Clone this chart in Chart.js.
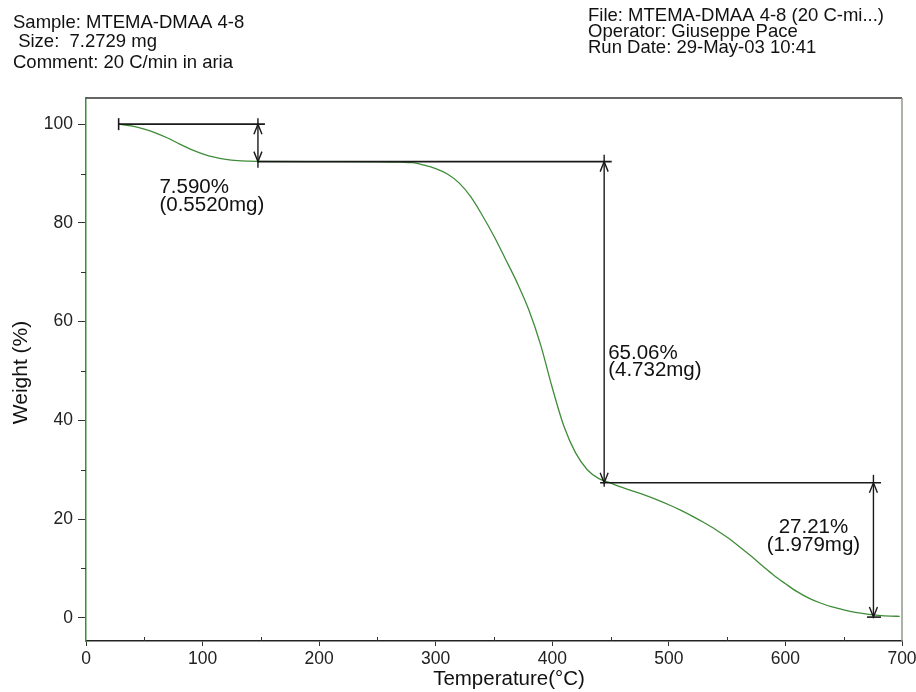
<!DOCTYPE html>
<html><head><meta charset="utf-8">
<script src="https://cdn.jsdelivr.net/npm/chart.js@4"></script>
<style>html,body{margin:0;padding:0;background:#fff}</style>
</head><body>
<canvas id="c" width="916" height="692"></canvas>
<script>
// ---- data ----
const temperature = [28, 40, 50, 60, 70, 80, 90, 100, 110, 120, 130, 140, 150, 200, 250, 270, 280, 290, 300, 310, 320, 330, 340, 350, 360, 370, 380, 390, 400, 410, 420, 430, 440, 450, 460, 470, 480, 490, 500, 510, 520, 530, 540, 550, 560, 570, 580, 590, 600, 610, 620, 630, 640, 650, 660, 670, 680, 690, 698];
const weight      = [100, 99.6, 99.0, 98.2, 97.2, 96.0, 94.9, 94.0, 93.3, 92.85, 92.6, 92.5, 92.45, 92.42, 92.38, 92.3, 92.2, 91.7, 91.0, 89.9, 88.1, 85.3, 81.5, 77.3, 72.6, 67.8, 62.3, 55.3, 46.6, 38.8, 33.4, 30.0, 28.2, 27.3, 26.4, 25.6, 24.8, 23.9, 22.9, 21.8, 20.6, 19.3, 17.9, 16.3, 14.5, 12.6, 10.6, 8.6, 6.9, 5.3, 4.0, 3.0, 2.2, 1.6, 1.1, 0.75, 0.5, 0.35, 0.3];
const xTicks = [0, 100, 200, 300, 400, 500, 600, 700];
const xMinorTicks = [50, 150, 250, 350, 450, 550, 650];
const yTicks = [0, 20, 40, 60, 80, 100];
const yMinorTicks = [10, 30, 50, 70, 90];
const headerLeft = ["Sample: MTEMA-DMAA 4-8", " Size:  7.2729 mg", "Comment: 20 C/min in aria"];
const headerRight = ["File: MTEMA-DMAA 4-8 (20 C-mi...)", "Operator: Giuseppe Pace", "Run Date: 29-May-03 10:41"];
// step analysis: weight levels and arrow temperatures
const stepLevels = [100, 92.41, 27.35, 0.14];
const stepArrowT = [147.5, 444.5, 675.5];
const stepPercent = ["7.590%", "65.06%", "27.21%"];
const stepMass = ["(0.5520mg)", "(4.732mg)", "(1.979mg)"];
// horizontal reference lines: [level, fromT, toT]
const levelLines = [[100, 28, 153.5], [92.41, 147.5, 451], [27.35, 441, 682], [0.14, 670, 682]];

const FONT = "'Liberation Sans', Arial, Helvetica, sans-serif";
const GREEN = '#3f8c38';

const annot = {
  id: 'annot',
  afterDraw(chart) {
    const ctx = chart.ctx, xs = chart.scales.x, ys = chart.scales.y, a = chart.chartArea;
    const X = v => xs.getPixelForValue(v), Y = v => ys.getPixelForValue(v);
    ctx.save();
    // frame: top and right
    ctx.lineWidth = 1.5;
    ctx.strokeStyle = '#333';
    ctx.beginPath(); ctx.moveTo(a.left, a.top); ctx.lineTo(a.right, a.top); ctx.stroke();
    ctx.strokeStyle = '#8f9a8c';
    ctx.beginPath(); ctx.moveTo(a.right, a.top); ctx.lineTo(a.right, a.bottom); ctx.stroke();
    // minor ticks
    ctx.strokeStyle = '#333'; ctx.lineWidth = 1;
    xMinorTicks.forEach(t => { const px = Math.round(X(t)) + 0.5; ctx.beginPath(); ctx.moveTo(px, a.bottom); ctx.lineTo(px, a.bottom - 4); ctx.stroke(); });
    yMinorTicks.forEach(t => { const py = Math.round(Y(t)) + 0.5; ctx.beginPath(); ctx.moveTo(a.left, py); ctx.lineTo(a.left - 5, py); ctx.stroke(); });

    // level lines
    ctx.strokeStyle = '#1a1a1a'; ctx.lineWidth = 1.6;
    levelLines.forEach(([lv, t0, t1]) => { ctx.beginPath(); ctx.moveTo(X(t0), Y(lv)); ctx.lineTo(X(t1), Y(lv)); ctx.stroke(); });
    // start tick
    ctx.beginPath(); ctx.moveTo(X(levelLines[0][1]), Y(100) - 6); ctx.lineTo(X(levelLines[0][1]), Y(100) + 6); ctx.stroke();
    // arrows
    const over = [[6, 6], [7, 4], [8, 0]];
    ctx.lineWidth = 1.4;
    stepArrowT.forEach((t, i) => {
      const px = X(t), yt = Y(stepLevels[i]), yb = Y(stepLevels[i + 1]);
      ctx.beginPath(); ctx.moveTo(px, yt - over[i][0]); ctx.lineTo(px, yb + over[i][1]); ctx.stroke();
      ctx.beginPath();
      ctx.moveTo(px - 4, yt + 10); ctx.lineTo(px, yt); ctx.lineTo(px + 4, yt + 10);
      ctx.moveTo(px - 4, yb - 10); ctx.lineTo(px, yb); ctx.lineTo(px + 4, yb - 10);
      ctx.stroke();
    });

    // step labels
    ctx.fillStyle = '#111';
    ctx.font = '20.5px ' + FONT;
    ctx.textBaseline = 'alphabetic';
    ctx.textAlign = 'left';
    ctx.fillText(stepPercent[0], X(63), Y(stepLevels[1]) + 31);
    ctx.fillText(stepMass[0], X(63), Y(stepLevels[1]) + 49);
    ctx.fillText(stepPercent[1], X(stepArrowT[1]) + 4, Y(52.5));
    ctx.fillText(stepMass[1], X(stepArrowT[1]) + 4, Y(52.5) + 17.7);
    ctx.textAlign = 'center';
    ctx.fillText(stepPercent[2], X(624), Y(stepLevels[2]) + 50);
    ctx.fillText(stepMass[2], X(624), Y(stepLevels[2]) + 68);

    // header texts
    ctx.textAlign = 'left';
    ctx.font = '18.5px ' + FONT;
    const lb = [28.3, 46.7, 68.3];
    headerLeft.forEach((s, i) => ctx.fillText(s, 13, lb[i]));
    const rb = [20.7, 36.5, 53.3];
    headerRight.forEach((s, i) => ctx.fillText(s, 588, rb[i]));

    // axis titles
    ctx.font = '20.5px ' + FONT;
    ctx.textAlign = 'center';
    ctx.fillText('Temperature(°C)', (a.left + a.right) / 2 + 15, 685);
    ctx.translate(27, (a.top + a.bottom) / 2 + 3);
    ctx.rotate(-Math.PI / 2);
    ctx.font = '21px ' + FONT;
    ctx.fillText('Weight (%)', 0, 0);
    ctx.restore();
  }
};

new Chart(document.getElementById('c'), {
  type: 'line',
  data: {
    datasets: [{
      data: temperature.map((t, i) => ({ x: t, y: weight[i] })),
      borderColor: GREEN,
      borderWidth: 1.3,
      pointRadius: 0,
      fill: false,
      cubicInterpolationMode: 'monotone'
    }]
  },
  options: {
    responsive: false,
    animation: false,
    devicePixelRatio: 1,
    layout: { padding: { left: 0, top: 98, right: 14, bottom: 0 } },
    plugins: { legend: { display: false }, tooltip: { enabled: false } },
    scales: {
      x: {
        type: 'linear', min: 0, max: 700,
        afterBuildTicks: s => { s.ticks = xTicks.map(v => ({ value: v })); },
        afterFit: s => { s.height = 51; s.paddingLeft = 0; s.paddingRight = 0; },
        grid: { drawOnChartArea: false, drawTicks: true, tickLength: 5, tickColor: '#333', tickWidth: 1 },
        border: { display: true, color: '#222', width: 1.6 },
        ticks: { font: { family: FONT, size: 17.5 }, color: '#222', padding: 3, maxRotation: 0 }
      },
      y: {
        type: 'linear', min: -4.7, max: 105.3,
        afterBuildTicks: s => { s.ticks = yTicks.map(v => ({ value: v })); },
        afterFit: s => { s.width = 86; s.paddingTop = 0; s.paddingBottom = 0; },
        grid: { drawOnChartArea: false, drawTicks: true, tickLength: 8, tickColor: '#333', tickWidth: 1 },
        border: { display: true, color: GREEN, width: 1.5 },
        ticks: { font: { family: FONT, size: 17.5 }, color: '#222', padding: 5 }
      }
    }
  },
  plugins: [annot]
});
</script>
</body></html>
